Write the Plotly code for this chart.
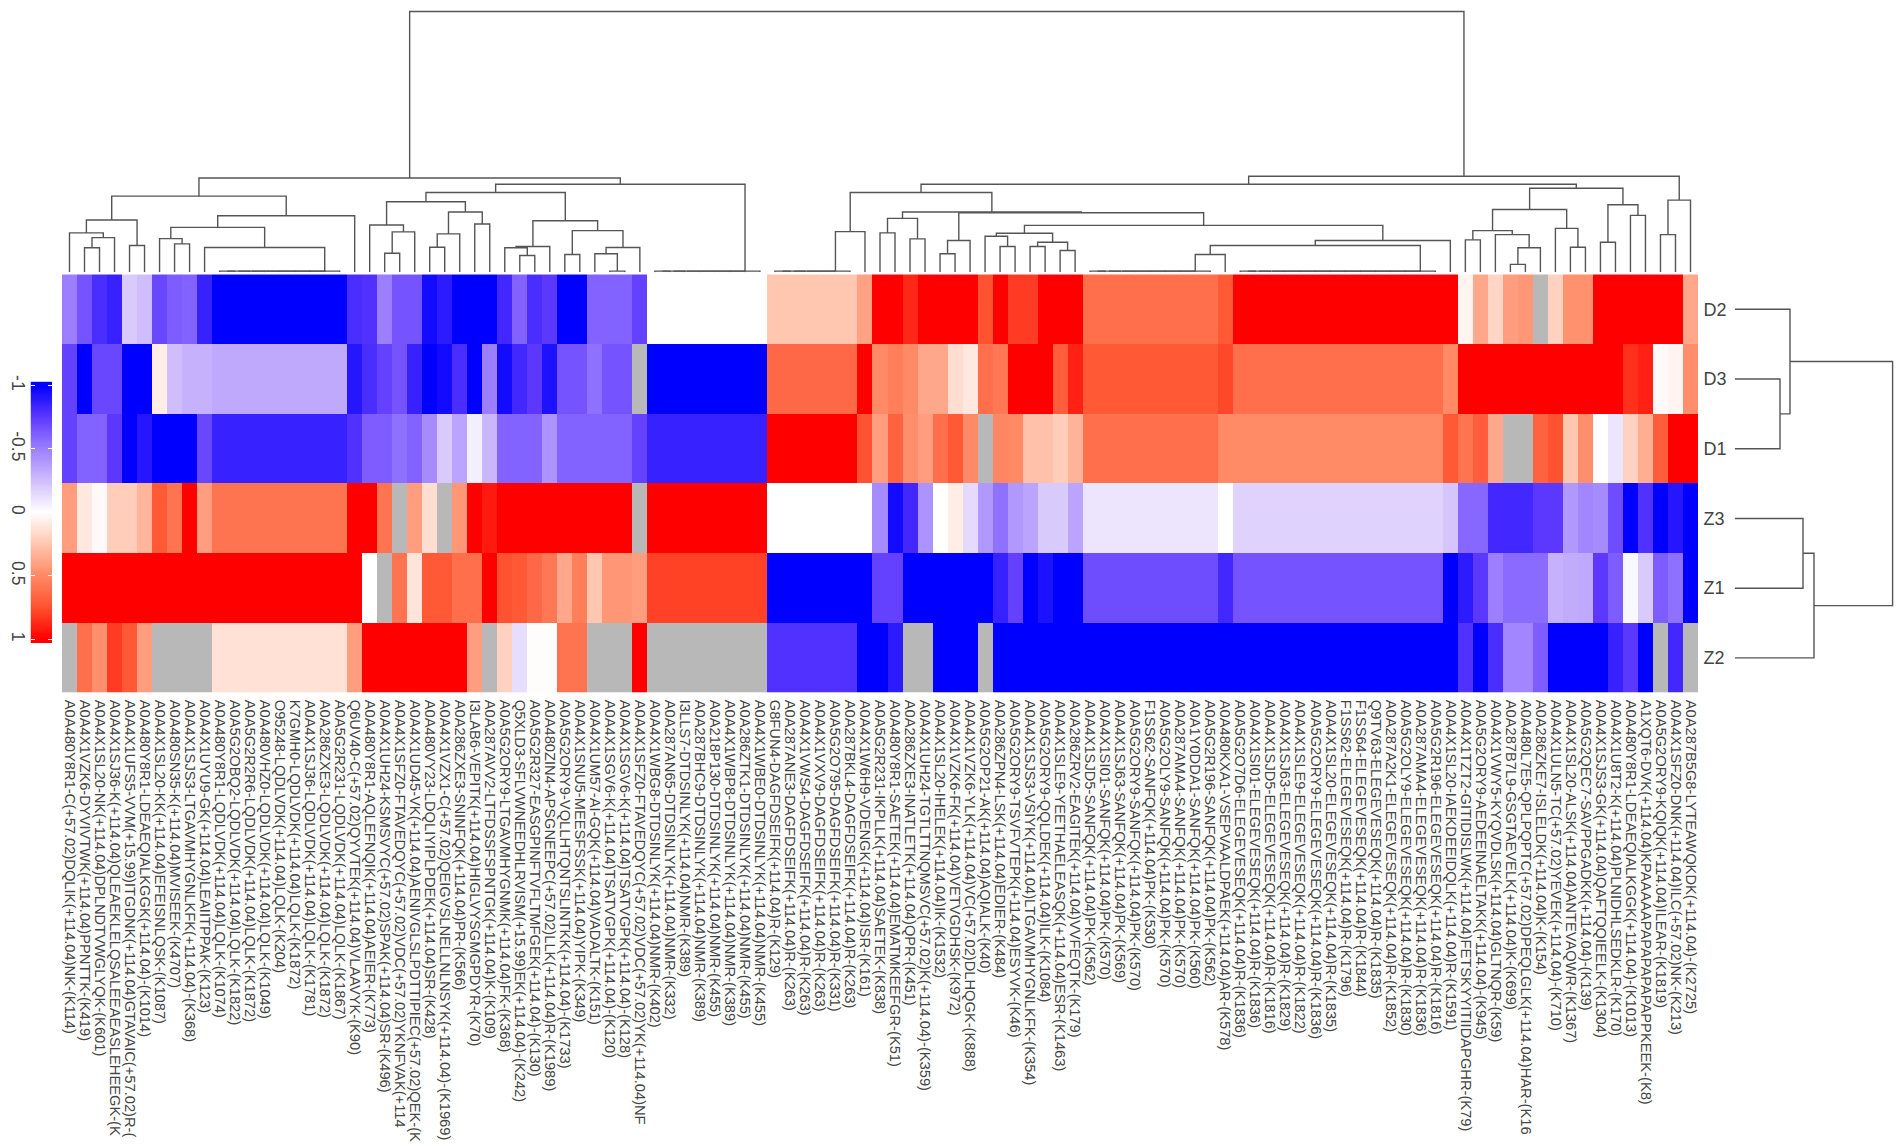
import numpy as np
import plotly.graph_objects as go

row_labels = ["D2", "D3", "D1", "Z3", "Z1", "Z2"]

col_labels = [
"A0A480Y8R1-C(+57.02)DQLIK(+114.04)NK-(K114)",
"A0A4X1VZK6-DYVIVTWK(+114.04)PPNTTK-(K419)",
"A0A4X1SL20-NK(+114.04)DPLNDTVWGLYQK-(K601)",
"A0A4X1SJ36-K(+114.04)QLEAEKLELQSALEEAEASLEHEEGK-(K",
"A0A4X1UFS5-VVM(+15.99)ITGDNK(+114.04)GTAVAIC(+57.02)R-(",
"A0A480Y8R1-LDEAEQIALKGGK(+114.04)-(K1014)",
"A0A4X1SL20-KK(+114.04)EFEISNLQSK-(K1087)",
"A0A480SN35-K(+114.04)MVISEEK-(K4707)",
"A0A4X1SJS3-LTGAVMHYGNLKFK(+114.04)-(K368)",
"A0A4X1UYU9-GK(+114.04)LEAIITPPAK-(K123)",
"A0A480Y8R1-LQDLVDK(+114.04)LQLK-(K1074)",
"A0A5G2OBQ2-LQDLVDK(+114.04)LQLK-(K1822)",
"A0A5G2R2R6-LQDLVDK(+114.04)LQLK-(K1872)",
"A0A480VHZ0-LQDLVDK(+114.04)LQLK-(K1049)",
"O95248-LQDLVDK(+114.04)LQLK-(K204)",
"K7GMH0-LQDLVDK(+114.04)LQLK-(K1872)",
"A0A4X1SJ36-LQDLVDK(+114.04)LQLK-(K1781)",
"A0A286ZXE3-LQDLVDK(+114.04)LQLK-(K1872)",
"A0A5G2R231-LQDLVDK(+114.04)LQLK-(K1867)",
"Q6UV40-C(+57.02)QYVTEK(+114.04)VLAAVYK-(K90)",
"A0A480Y8R1-AQLEFNQIK(+114.04)AEIER-(K773)",
"A0A4X1UH24-KSMSVYC(+57.02)SPAK(+114.04)SR-(K496)",
"A0A4X1SFZ0-FTAVEDQYC(+57.02)VDC(+57.02)YKNFVAK(+114",
"A0A4X1UD45-VK(+114.04)AENIVGLSLPDTTIPIEC(+57.02)QEK-(K",
"A0A480VY23-LDQLIYIPLPDEK(+114.04)SR-(K428)",
"A0A4X1VZX1-C(+57.02)QEIGVSLNELLNLNSYK(+114.04)-(K1969)",
"A0A286ZXE3-SNINFQK(+114.04)PR-(K566)",
"I3LAB6-VEPITK(+114.04)HIGLVYSGMGPDYR-(K70)",
"A0A287AVV2-LTFDSSFSPNTGK(+114.04)K-(K109)",
"A0A5G2ORY9-LTGAVMHYGNMK(+114.04)FK-(K368)",
"Q5XLD3-SFLVWNEEDHLRVISM(+15.99)EK(+114.04)-(K242)",
"A0A5G2R327-EASGPINFTVFLTMFGEK(+114.04)-(K130)",
"A0A480ZIN4-APSGNEEPC(+57.02)LLK(+114.04)R-(K1989)",
"A0A5G2ORY9-VQLLHTQNTSLINTKK(+114.04)-(K1733)",
"A0A4X1SNU5-MEESFSSK(+114.04)YIPK-(K349)",
"A0A4X1UM57-AI-GQK(+114.04)VADALTK-(K151)",
"A0A4X1SGV6-K(+114.04)TSATVGPK(+114.04)-(K120)",
"A0A4X1SGV6-K(+114.04)TSATVGPK(+114.04)-(K128)",
"A0A4X1SFZ0-FTAVEDQYC(+57.02)VDC(+57.02)YK(+114.04)NF",
"A0A4X1WBG8-DTDSINLYK(+114.04)NMR-(K402)",
"A0A287AN65-DTDSINLYK(+114.04)NMR-(K332)",
"I3LLS7-DTDSINLYK(+114.04)NMR-(K389)",
"A0A287BHC9-DTDSINLYK(+114.04)NMR-(K389)",
"A0A218P130-DTDSINLYK(+114.04)NMR-(K455)",
"A0A4X1WBP8-DTDSINLYK(+114.04)NMR-(K389)",
"A0A286ZTK1-DTDSINLYK(+114.04)NMR-(K455)",
"A0A4X1WBE0-DTDSINLYK(+114.04)NMR-(K455)",
"G8FUN4-DAGFDSEIFK(+114.04)R-(K129)",
"A0A287ANE3-DAGFDSEIFK(+114.04)R-(K263)",
"A0A4X1VWS4-DAGFDSEIFK(+114.04)R-(K263)",
"A0A4X1VXV9-DAGFDSEIFK(+114.04)R-(K263)",
"A0A5G2O795-DAGFDSEIFK(+114.04)R-(K331)",
"A0A287BKL4-DAGFDSEIFK(+114.04)R-(K263)",
"A0A4X1W6H9-VDENGK(+114.04)ISR-(K161)",
"A0A5G2R231-IKPLLK(+114.04)SAETEK-(K838)",
"A0A480Y8R1-SAETEK(+114.04)EMATMKEEFGR-(K51)",
"A0A286ZXE3-INATLETK(+114.04)QPR-(K451)",
"A0A4X1UH24-TGTLTTNQMSVC(+57.02)K(+114.04)-(K359)",
"A0A4X1SL20-IHELEK(+114.04)IK-(K1532)",
"A0A4X1VZK6-FK(+114.04)VETVGDHSK-(K972)",
"A0A4X1VZK6-YLK(+114.04)VC(+57.02)DLHQGK-(K888)",
"A0A5G2OP21-AK(+114.04)AQIALK-(K40)",
"A0A286ZPN4-LSK(+114.04)EDIER-(K484)",
"A0A5G2ORY9-TSVFVTEPK(+114.04)ESYVK-(K46)",
"A0A4X1SJS3-VSIYK(+114.04)LTGAVMHYGNLKFK-(K354)",
"A0A5G2ORY9-QQLDEK(+114.04)ILK-(K1084)",
"A0A4X1SLE9-YEETHAELEASQK(+114.04)ESR-(K1463)",
"A0A286ZRV2-EAGITEK(+114.04)VVFEQTK-(K179)",
"A0A4X1SJD5-SANFQK(+114.04)PK-(K562)",
"A0A4X1SI01-SANFQK(+114.04)PK-(K570)",
"A0A4X1SJ63-SANFQK(+114.04)PK-(K569)",
"A0A5G2ORY9-SANFQK(+114.04)PK-(K570)",
"F1SS62-SANFQK(+114.04)PK-(K530)",
"A0A5G2OLY9-SANFQK(+114.04)PK-(K570)",
"A0A287AMA4-SANFQK(+114.04)PK-(K570)",
"A0A1Y0DDA1-SANFQK(+114.04)PK-(K560)",
"A0A5G2R196-SANFQK(+114.04)PK-(K562)",
"A0A480KXA1-VSEPVAALDPAEK(+114.04)AR-(K578)",
"A0A5G2O7D6-ELEGEVESEQK(+114.04)R-(K1836)",
"A0A4X1SI01-ELEGEVESEQK(+114.04)R-(K1836)",
"A0A4X1SJD5-ELEGEVESEQK(+114.04)R-(K1816)",
"A0A4X1SJ63-ELEGEVESEQK(+114.04)R-(K1829)",
"A0A4X1SLE9-ELEGEVESEQK(+114.04)R-(K1822)",
"A0A5G2ORY9-ELEGEVESEQK(+114.04)R-(K1836)",
"A0A4X1SL20-ELEGEVESEQK(+114.04)R-(K1835)",
"F1SS62-ELEGEVESEQK(+114.04)R-(K1796)",
"F1SS64-ELEGEVESEQK(+114.04)R-(K1844)",
"Q9TV63-ELEGEVESEQK(+114.04)R-(K1835)",
"A0A287A2K1-ELEGEVESEQK(+114.04)R-(K1852)",
"A0A5G2OLY9-ELEGEVESEQK(+114.04)R-(K1830)",
"A0A287AMA4-ELEGEVESEQK(+114.04)R-(K1836)",
"A0A5G2R196-ELEGEVESEQK(+114.04)R-(K1816)",
"A0A4X1SL20-IAEKDEEIDQLK(+114.04)R-(K1591)",
"A0A4X1TZT2-GITIDISLWK(+114.04)FETSKYYITIIDAPGHR-(K79)",
"A0A5G2ORY9-AEDEEINAELTAKK(+114.04)-(K945)",
"A0A4X1VWY5-KYQVDLSK(+114.04)GLTNQR-(K59)",
"A0A287B7L9-GSGTAEVELK(+114.04)K-(K699)",
"A0A480L7E5-QPLPQPTC(+57.02)DPEQLGLK(+114.04)HAR-(K16",
"A0A286ZKE7-ISLELDK(+114.04)K-(K154)",
"A0A4X1ULN5-TC(+57.02)YEVEK(+114.04)-(K710)",
"A0A4X1SL20-ALSK(+114.04)ANTEVAQWR-(K1367)",
"A0A5G2QEC7-SAVPPGADKK(+114.04)-(K139)",
"A0A4X1SJS3-GK(+114.04)QAFTQQIEELK-(K1304)",
"A0A4X1U8T2-K(+114.04)PLNIDHLSEDKLR-(K170)",
"A0A480Y8R1-LDEAEQIALKGGK(+114.04)-(K1013)",
"A1XQT6-DVK(+114.04)KPAAAAAPAPAPAPAPAPPKEEK-(K8)",
"A0A5G2ORY9-KQIQK(+114.04)ILEAR-(K1819)",
"A0A4X1SFZ0-DNK(+114.04)ILC(+57.02)NK-(K213)",
"A0A287B5G8-LYTEAWQKDK(+114.04)-(K2725)",
]

N = None
D2 = [-.5,-.65,-.8,-.85,-.2,-.25,-.7,-.62,-.6,-.85,
      -1,-1,-1,-1,-1,-1,-1,-1,-1,-.8,
      -.78,-.5,-.65,-.65,-.95,-.88,-1,-1,-1,-.82,
      -.6,-.8,-.75,-1,-1,-.6,-.6,-.6,-.72,0,
      0,0,0,0,0,0,0,.25,.25,.25,
      .25,.25,.25,.4,1,1,.88,1,1,1,
      1,.75,1,.82,.82,1,1,1,.62,.62,
      .62,.62,.62,.62,.62,.62,.62,.72,1,1,
      1,1,1,1,1,1,1,1,1,1,
      1,1,1,.05,.38,.18,.42,.45,N,.2,
      .47,.47,1,1,1,1,1,1,.38]
D3 = [-.72,-1,-.7,-.7,-1,-1,.08,-.25,-.3,-.3,
      -.33,-.33,-.33,-.33,-.33,-.33,-.33,-.33,-.33,-.9,
      -.8,-.72,-.65,-.85,-1,-.95,-.8,-1,-.5,-.95,
      -.82,-.75,-.92,-.65,-.65,-.55,-.65,-.65,N,-1,
      -1,-1,-1,-1,-1,-1,-1,.65,.65,.65,
      .65,.65,.65,1,.5,.55,.5,.38,.38,.15,
      .1,.62,.58,1,1,1,.7,.9,.72,.72,
      .72,.72,.72,.72,.72,.72,.72,.78,.62,.62,
      .62,.62,.62,.62,.62,.62,.62,.62,.62,.62,
      .62,.62,.5,1,1,1,1,1,1,1,
      1,1,1,1,.85,.9,.02,.05,.48]
D1 = [-.72,-.6,-.6,-.75,-1,-.9,-1,-1,-1,-.7,
      -.85,-.85,-.85,-.85,-.85,-.85,-.85,-.85,-.85,-.78,
      -.62,-.62,-.55,-.6,-.45,-.2,-.35,-.06,-.28,-.6,
      -.6,-.6,-.42,-.6,-.6,-.6,-.6,-.6,-.72,-.85,
      -.85,-.85,-.85,-.85,-.85,-.85,-.85,1,1,1,
      1,1,1,.75,.42,.68,.48,.42,.62,.72,
      .5,N,.52,.5,.27,.27,.22,.33,.62,.62,
      .62,.62,.62,.62,.62,.62,.62,.5,.5,.5,
      .5,.5,.5,.5,.5,.5,.5,.5,.5,.5,
      .5,.5,.72,.6,.7,.38,N,N,.68,.75,
      .25,.48,0,-.1,.2,.35,.7,1,1]
Z3 = [.42,.1,.02,.22,.22,.32,.72,.6,1,.42,
      .6,.6,.6,.6,.6,.6,.6,.6,.6,1,
      1,.6,N,.42,.15,N,.45,1,.92,1,
      1,1,1,1,1,1,1,1,N,1,
      1,1,1,1,1,1,1,0,0,0,
      0,0,0,0,-.45,-.95,-.82,-.42,0,.08,
      -.14,-.4,-.55,-.4,-.35,-.2,-.2,-.35,-.1,-.1,
      -.1,-.1,-.1,-.1,-.1,-.1,-.1,0,-.17,-.17,
      -.17,-.17,-.17,-.17,-.17,-.17,-.17,-.17,-.17,-.17,
      -.17,-.17,-.22,-.58,-.58,-.82,-.82,-.82,-.75,-.75,
      -.4,-.47,-.45,-.68,-1,-.78,-1,-.9,-1]
Z1 = [1,1,1,1,1,1,1,1,1,1,
      1,1,1,1,1,1,1,1,1,1,
      0,N,.6,.12,.72,.72,.62,.62,1,.75,
      .72,.65,.58,.38,.55,.25,.45,.45,.42,.8,
      .8,.8,.8,.8,.8,.8,.8,-1,-1,-1,
      -1,-1,-1,-1,-.72,-.72,-1,-1,-1,-1,
      -1,-1,-.85,-.72,-1,-.92,-1,-1,-.68,-.68,
      -.68,-.68,-.68,-.68,-.68,-.68,-.68,-.82,-.65,-.65,
      -.65,-.65,-.65,-.65,-.65,-.65,-.65,-.65,-.65,-.65,
      -.65,-.65,-1,-.88,-.75,-.5,-.57,-.57,-.57,-.3,
      -.32,-.33,-.75,-.62,-.03,-.2,-.62,-.55,-1]
Z2 = [N,.62,.48,.82,.72,.42,N,N,N,N,
      .13,.13,.13,.13,.13,.13,.13,.13,.13,.42,
      1,1,1,1,1,1,1,.42,N,.2,
      -.13,.01,.01,.6,.6,N,N,N,1,N,
      N,N,N,N,N,N,N,-.78,-.78,-.78,
      -.78,-.78,-.78,-1,-1,-.88,N,N,-1,-1,
      -1,N,-1,-1,-1,-1,-1,-1,-1,-1,
      -1,-1,-1,-1,-1,-1,-1,-1,-1,-1,
      -1,-1,-1,-1,-1,-1,-1,-1,-1,-1,
      -1,-1,-1,-.78,-1,-.8,-.47,-.47,-.62,-1,
      -1,-1,-1,-.85,-.75,-1,N,-.82,N]
matrix = [D2, D3, D1, Z3, Z1, Z2]

# Dendrograms: each node is (height, left, right); a plain int is a 1-based leaf.
def chain(first, last, height):
    node = first
    for leaf in range(first + 1, last + 1):
        node = (height, node, leaf)
    return node

tree_a = (52.7, (39.7, 1, (35, (24.7, 2, 3), 4)), (27, 5, 6))
tree_b = (57, (45.3, (34, 7, (28.7, 8, 9)), (25, 10, chain(11, 19, 1.3))), 20)
tree_c1 = (71, (47.7, 21, (40.7, (19.3, 22, 23), 24)),
           (60.7, (38.7, (25.3, 25, 26), 27), (48.7, 28, 29)))
tree_c2 = (52, (26, (24.7, 30, (17, 31, 32)), 33),
           (42, (18, 34, 35), (25, (18.7, 36, (1.3, 37, 38)), 39)))
left_tree = (95, (76.7, tree_a, tree_b), (88.7, (80.3, tree_c1, tree_c2), chain(40, 47, 1.3)))

tree_d = (41, chain(48, 53, 1.3), 54)
tree_e = (54.3, (39.7, 55, 56), (33.7, 57, 58))
tree_g = (32, (18.7, 59, 60), 61)
tree_p = (39.3, (36.3, 62, (26, 63, 64)), (30.3, (26, 65, 66), (22, 67, 68)))
tree_u = (32, (27, (18, chain(69, 77, 1.3), 78), chain(79, 92, 1.3)), 93)
tree_f = (80.3, tree_d, (60.7, tree_e, (60, tree_g, (47.3, tree_p, tree_u))))
tree_h = (84.7,
          (63.3, (42, (32.7, 94, 95), (38, 96, (24.7, (8, 97, 98), 99))),
           (44.3, 100, (25.3, 101, 102))),
          (68, (30.3, 103, 104), (57.3, 105, 106)))
right_tree = (96.7, (88.7, tree_f, tree_h), (72.7, (38, 107, 108), 109))
col_tree = (262.5, left_tree, right_tree)

row_tree = (157.9, (55.3, 1, (45.3, 2, 3)), (79.3, (68.3, 4, 5), 6))

bar_levels = np.linspace(-1.03, 1.03, 240)
colorscale = [
    [0.0, "#0000ff"], [0.125, "#5c38ff"], [0.25, "#9b7fff"], [0.375, "#d0bdfb"],
    [0.5, "#ffffff"], [0.625, "#ffc6b0"], [0.75, "#ff8a66"], [0.875, "#ff5230"], [1.0, "#ff0000"],
]


def segments(tree):
    xs, ys = [], []
    def walk(node):
        if isinstance(node, int):
            return node - 1, 0.0
        height, left, right = node
        px, ph = walk(left)
        qx, qh = walk(right)
        xs.extend([px, px, qx, qx, None])
        ys.extend([ph, height, height, qh, None])
        return (px + qx) / 2, height
    walk(tree)
    return xs, ys


W, H = 1902, 1146
def fx(p): return p / W
def fy(p): return 1 - p / H

hm_left, hm_right, hm_top, hm_bottom = 62, 1698, 269, 690
tree_base = 267
text_color = "#444444"
line_color = "#555555"

fig = go.Figure()
n_cols = len(col_labels)
mask = [[1 if v is None else None for v in row] for row in matrix]
z = [[np.nan if v is None else v for v in row] for row in matrix]
fig.add_trace(go.Heatmap(z=mask, colorscale=[[0, "#b8b8b8"], [1, "#b8b8b8"]], showscale=False,
                         hoverinfo="skip", xaxis="x", yaxis="y"))
fig.add_trace(go.Heatmap(z=z, zmin=-1, zmax=1, colorscale=colorscale, showscale=False,
                         xaxis="x", yaxis="y"))

cx, cy = segments(col_tree)
fig.add_trace(go.Scatter(x=cx, y=cy, mode="lines", line=dict(color=line_color, width=1.4),
                         hoverinfo="skip", showlegend=False, xaxis="x2", yaxis="y2"))
ry, rx = segments(row_tree)
fig.add_trace(go.Scatter(x=rx, y=ry, mode="lines", line=dict(color=line_color, width=1.4),
                         hoverinfo="skip", showlegend=False, xaxis="x3", yaxis="y3"))
fig.add_trace(go.Heatmap(z=[[v] for v in bar_levels], y=bar_levels, x=[0], zmin=-1, zmax=1,
                         colorscale=colorscale, showscale=False, hoverinfo="skip",
                         xaxis="x4", yaxis="y4"))

fig.update_layout(
    width=W, height=H, autosize=False, margin=dict(l=0, r=0, t=0, b=0),
    paper_bgcolor="white", plot_bgcolor="white", showlegend=False,
    font=dict(family="Liberation Sans, Arial, sans-serif", color=text_color),
    xaxis=dict(domain=[fx(hm_left), fx(hm_right)], range=[-0.5, n_cols - 0.5],
               tickmode="array", tickvals=list(range(n_cols)), ticktext=col_labels,
               tickangle=90, tickfont=dict(size=14.7, color=text_color), ticks="outside", ticklen=3,
               tickcolor="white", showgrid=False, zeroline=False, automargin=False, showline=False),
    yaxis=dict(domain=[fy(hm_bottom), fy(hm_top)], range=[5.5, -0.5], side="right",
               tickmode="array", tickvals=list(range(6)), ticktext=row_labels,
               tickfont=dict(size=18, color=text_color), ticks="outside", ticklen=1, tickcolor="white",
               showgrid=False, zeroline=False, automargin=False),
    xaxis2=dict(domain=[fx(hm_left), fx(hm_right)], range=[-0.5, n_cols - 0.5], visible=False,
                anchor="y2"),
    yaxis2=dict(domain=[fy(tree_base), 1], range=[0, tree_base], visible=False, anchor="x2"),
    xaxis3=dict(domain=[fx(1734.7), 1], range=[0, W - 1734.7], visible=False, anchor="y3"),
    yaxis3=dict(domain=[fy(hm_bottom), fy(hm_top)], range=[5.5, -0.5], visible=False, anchor="x3"),
    xaxis4=dict(domain=[fx(30.5), fx(52)], range=[-0.5, 0.5], visible=False, anchor="y4"),
    yaxis4=dict(domain=[fy(640), fy(377)], range=[1.03, -1.03], anchor="x4", side="left",
                tickmode="array", tickvals=[-1, -0.5, 0, 0.5, 1], ticktext=["-1", "-0.5", "0", "0.5", "1"],
                tickangle=90, tickfont=dict(size=17.5, color=text_color), ticks="inside", ticklen=4,
                tickcolor="white", mirror="ticks", showgrid=False, zeroline=False, showline=False),
)

fig.write_html("out.html", config={"displayModeBar": False},
               post_script="document.body.style.margin='0';")
